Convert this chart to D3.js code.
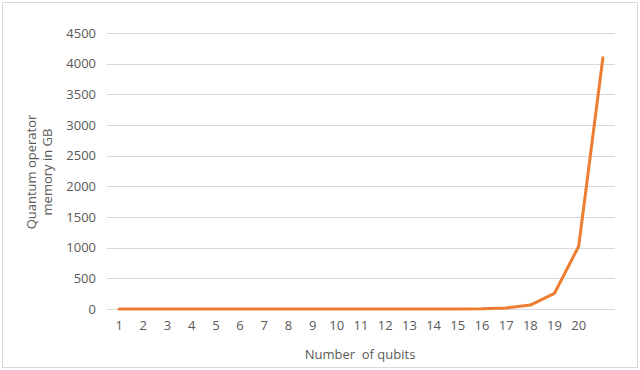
<!DOCTYPE html>
<html>
<head>
<meta charset="utf-8">
<script src="https://cdn.jsdelivr.net/npm/d3@7"></script>
<style>
  body { margin: 0; background: #fff; }
  text { font-family: "Open Sans", "Noto Sans", sans-serif; fill: #595959; }
</style>
</head>
<body>
<div id="chart"></div>
<script>
// Number of qubits (last point has no tick label in the original)
const qubits = [1, 2, 3, 4, 5, 6, 7, 8, 9, 10, 11, 12, 13, 14, 15, 16, 17, 18, 19, 20, 21];
const xLabels = ["1", "2", "3", "4", "5", "6", "7", "8", "9", "10", "11", "12", "13", "14", "15", "16", "17", "18", "19", "20", ""];
// Memory in GB
const memory = [0, 0, 0, 0, 0, 0, 0, 0, 0, 0.001, 0.004, 0.016, 0.0625, 0.25, 1, 4, 16, 64, 256, 1024, 4096];
const yTicks = [0, 500, 1000, 1500, 2000, 2500, 3000, 3500, 4000, 4500];

const W = 640, H = 370;
const margin = { top: 33, right: 25, bottom: 61, left: 107 };
const width = W - margin.left - margin.right;
const height = H - margin.top - margin.bottom;

const root = d3.select("#chart").append("svg")
    .attr("width", W)
    .attr("height", H);

// outer frame
root.append("rect")
    .attr("x", 2.5).attr("y", 2.5)
    .attr("width", W - 5).attr("height", H - 5)
    .attr("fill", "none")
    .attr("stroke", "#d9d9d9");

const svg = root.append("g")
    .attr("transform", `translate(${margin.left},${margin.top})`);

const x = d3.scaleBand()
    .domain(qubits)
    .range([0, width]);

const y = d3.scaleLinear()
    .domain([0, 4500])
    .range([height, 0]);

// gridlines
svg.append("g")
    .selectAll("line")
    .data(yTicks)
    .join("line")
    .attr("x1", 0)
    .attr("x2", width)
    .attr("y1", d => Math.round(y(d)) + 0.5)
    .attr("y2", d => Math.round(y(d)) + 0.5)
    .attr("stroke", "#d9d9d9")
    .attr("stroke-width", 1);

// Y axis labels
const yAxis = svg.append("g")
    .call(d3.axisLeft(y).tickValues(yTicks).tickSize(0).tickPadding(11).tickFormat(d3.format("d")));
yAxis.select(".domain").remove();
yAxis.selectAll("text").style("font-size", "13px").attr("fill", "#595959");

// X axis labels
const xAxis = svg.append("g")
    .attr("transform", `translate(0, ${height})`)
    .call(d3.axisBottom(x).tickSize(0).tickPadding(12).tickFormat((d, i) => xLabels[i]));
xAxis.select(".domain").remove();
xAxis.selectAll("text").style("font-size", "13px").attr("fill", "#595959");

// line
const line = d3.line()
    .x((d, i) => x(qubits[i]) + x.bandwidth() / 2)
    .y(d => y(d));

svg.append("path")
    .datum(memory)
    .attr("fill", "none")
    .attr("stroke", "#ED7D31")
    .attr("stroke-width", 3)
    .attr("stroke-linejoin", "round")
    .attr("stroke-linecap", "round")
    .attr("d", line);

// axis titles
const yTitle = root.append("text")
    .attr("transform", "translate(36,172) rotate(-90)")
    .attr("text-anchor", "middle")
    .style("font-size", "13px");
yTitle.append("tspan").attr("x", 0).attr("dy", 0).text("Quantum operator");
yTitle.append("tspan").attr("x", 0).attr("dy", 16).text("memory in GB");

root.append("text")
    .attr("x", 360)
    .attr("y", 359)
    .attr("text-anchor", "middle")
    .style("font-size", "13px")
    .text("Number\u00a0\u00a0of qubits");
</script>
</body>
</html>
